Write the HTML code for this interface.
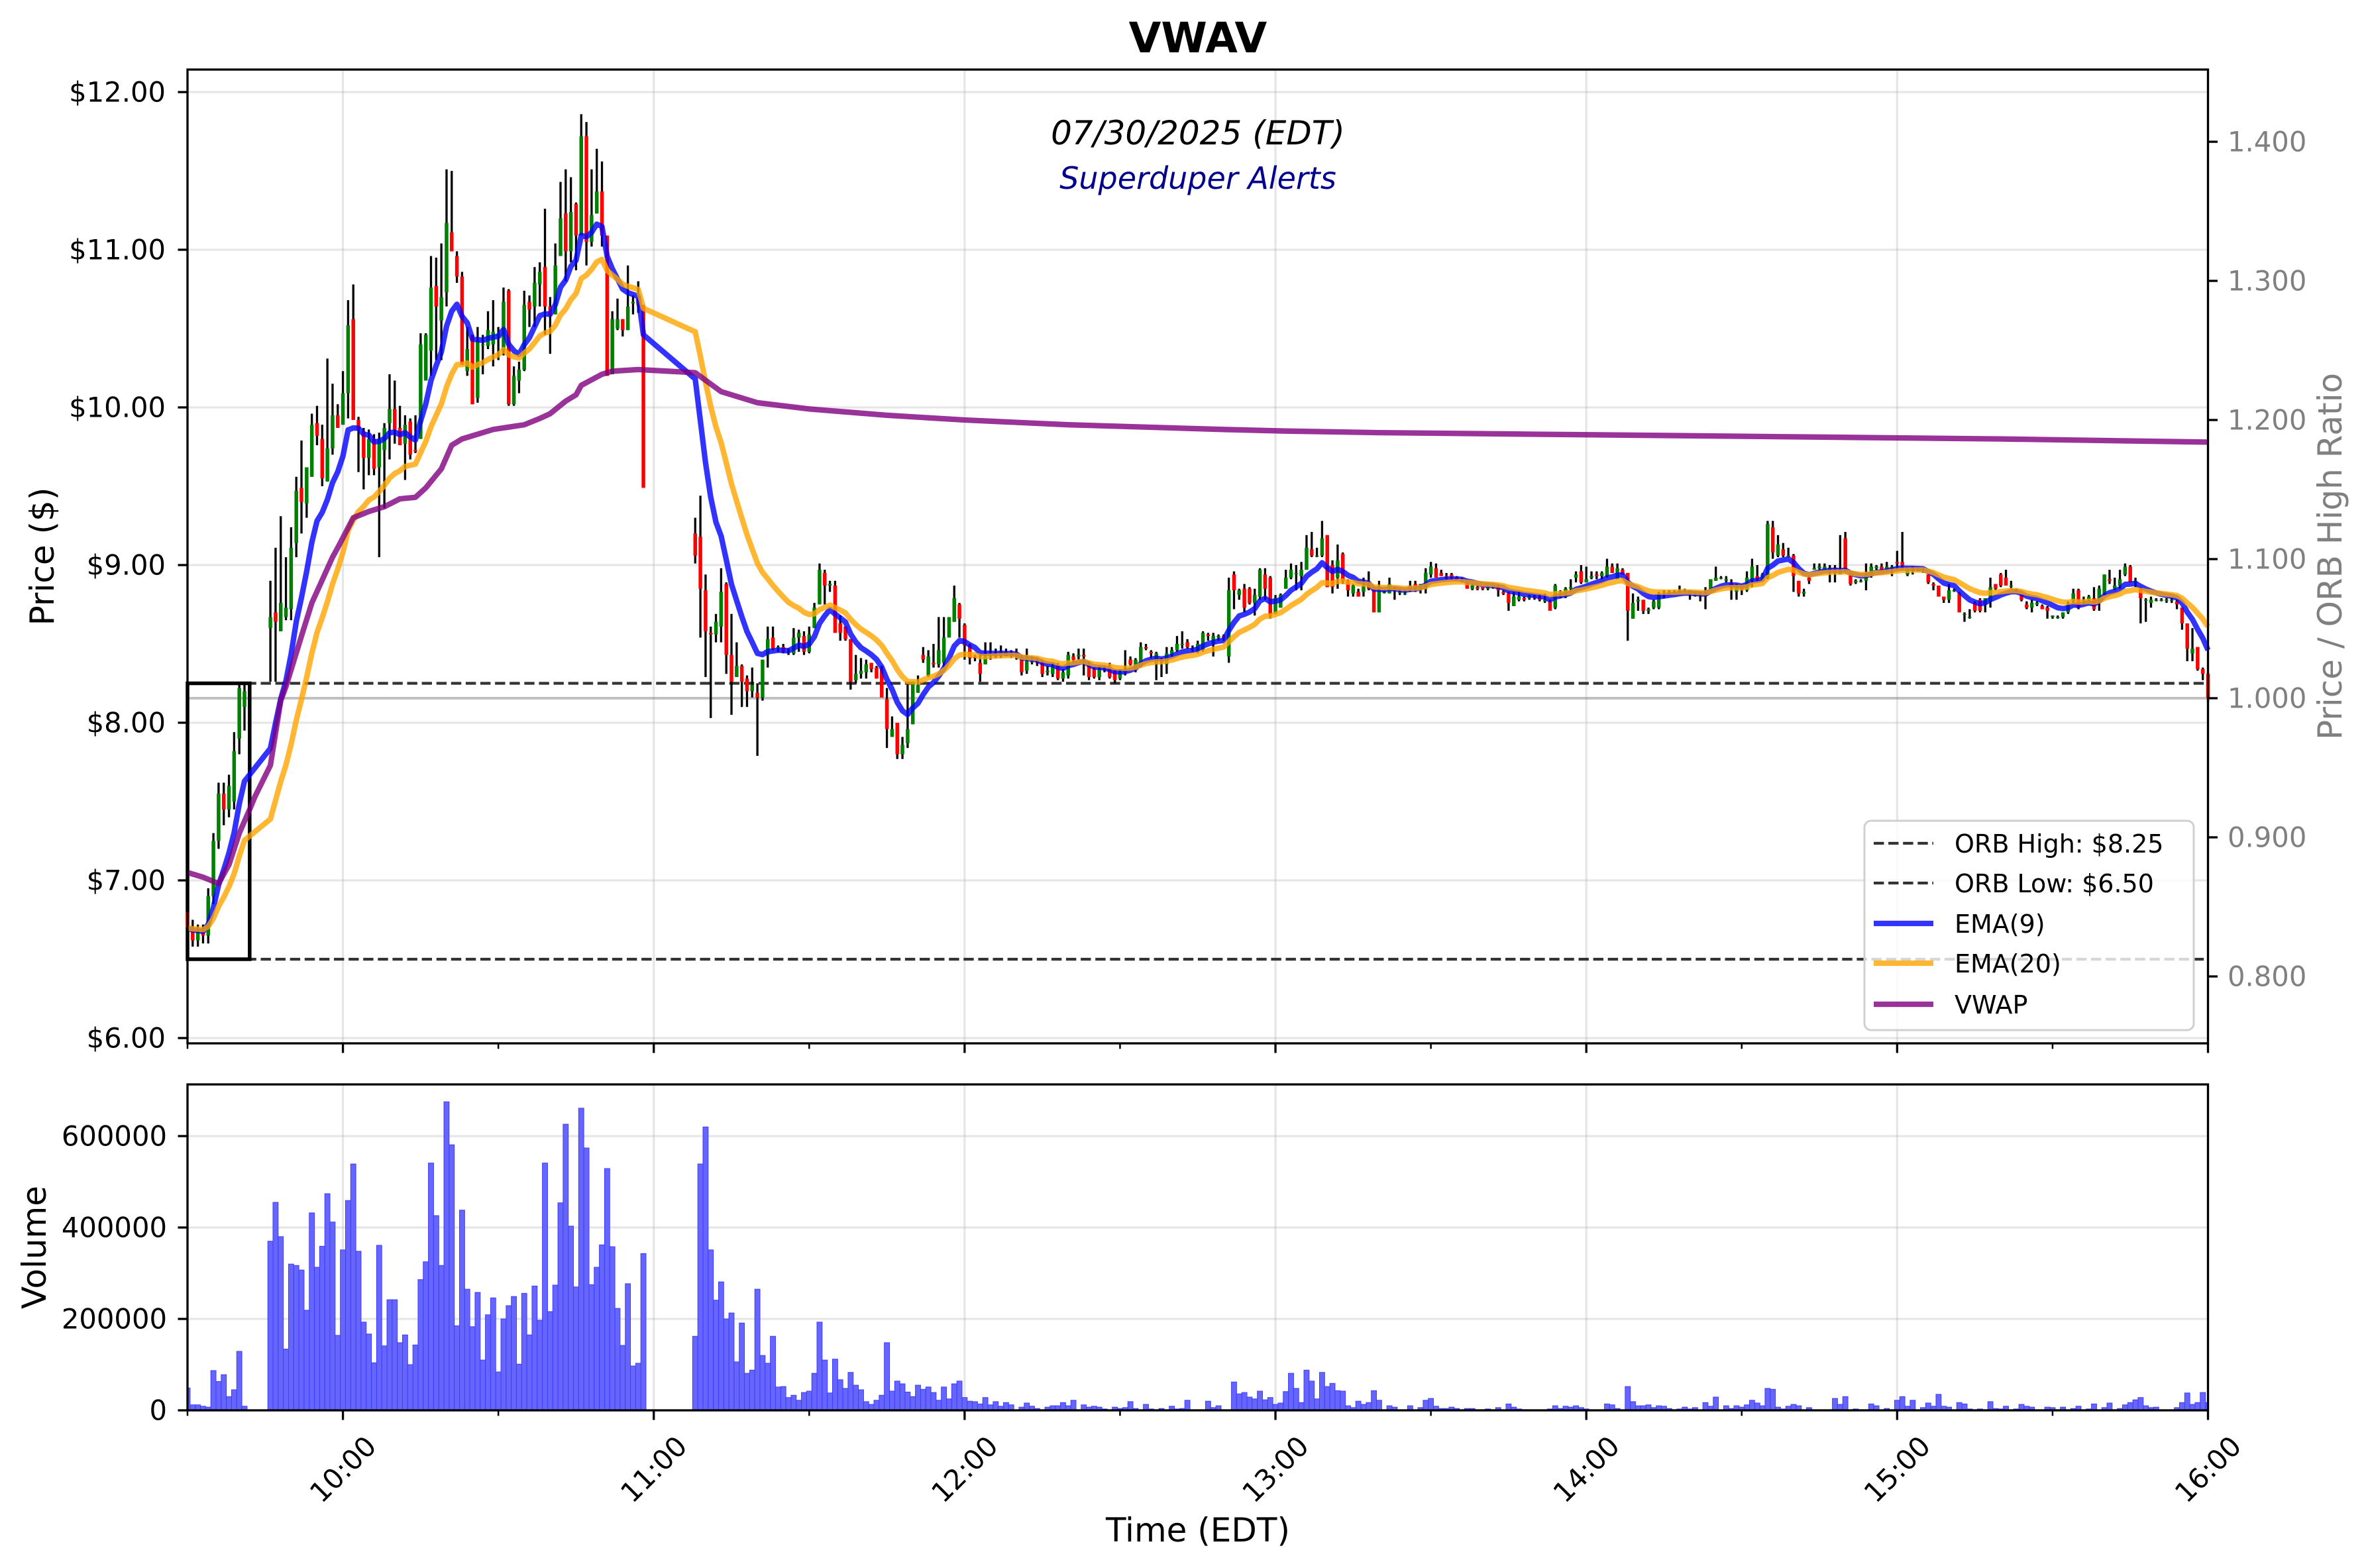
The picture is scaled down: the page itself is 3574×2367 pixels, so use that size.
<!DOCTYPE html>
<html><head><meta charset="utf-8"><title>VWAV</title>
<style>html,body{margin:0;padding:0;background:#fff}svg{display:block}text{font-family:"DejaVu Sans","Liberation Sans",sans-serif}</style>
</head><body>
<svg id="chart" xmlns="http://www.w3.org/2000/svg" width="3574" height="2367" viewBox="0 0 3574 2367">
<rect x="0" y="0" width="3574" height="2367" fill="#fff"/>
<text x="1808" y="79" font-size="63" font-weight="bold" text-anchor="middle">VWAV</text>
<g id="priceGrid"></g>
<g id="volGrid"></g>
<g id="refLines"></g>
<g id="candles"></g>
<g id="lines"></g>
<g id="bars"></g>
<g id="axes"></g>
<text x="1808" y="218" font-size="50" font-style="italic" text-anchor="middle">07/30/2025 (EDT)</text>
<text x="1808" y="285" font-size="46" font-style="italic" fill="#00008b" text-anchor="middle">Superduper Alerts</text>
<g id="legend">
<rect x="2814" y="1239" width="497" height="316" rx="10" fill="#fff" fill-opacity="0.8" stroke="#d0d0d0" stroke-width="3"/>
<line x1="2828" y1="1273" x2="2918" y2="1273" stroke="#333" stroke-width="4.2" stroke-dasharray="15.4 6.7"/>
<text x="2950" y="1287" font-size="38">ORB High: $8.25</text>
<line x1="2828" y1="1333" x2="2918" y2="1333" stroke="#333" stroke-width="4.2" stroke-dasharray="15.4 6.7"/>
<text x="2950" y="1347" font-size="38">ORB Low: $6.50</text>
<line x1="2828" y1="1394" x2="2918" y2="1394" stroke="#0000ff" stroke-opacity="0.8" stroke-width="8.3"/>
<text x="2950" y="1408" font-size="38">EMA(9)</text>
<line x1="2828" y1="1454" x2="2918" y2="1454" stroke="#ffa500" stroke-opacity="0.8" stroke-width="8.3"/>
<text x="2950" y="1468" font-size="38">EMA(20)</text>
<line x1="2828" y1="1516" x2="2918" y2="1516" stroke="#800080" stroke-opacity="0.8" stroke-width="8.3"/>
<text x="2950" y="1530" font-size="38">VWAP</text>
</g>
<text transform="translate(64,840) rotate(-90)" font-size="50" text-anchor="middle" dominant-baseline="central">Price ($)</text>
<text transform="translate(3517,840) rotate(-90)" font-size="50" fill="#808080" text-anchor="middle" dominant-baseline="central">Price / ORB High Ratio</text>
<text transform="translate(52,1883) rotate(-90)" font-size="50" text-anchor="middle" dominant-baseline="central">Volume</text>
<text x="1808" y="2327" font-size="50" text-anchor="middle">Time (EDT)</text>
</svg>
<script>
// ---- data (minute index from 09:30) ----
const opens = [
6.80,6.70,6.62,6.68,6.65,6.90,7.25,7.55,7.45,7.50,
7.90,8.10,null,null,null,null,8.60,8.70,8.58,8.67,
8.72,9.14,9.49,9.39,9.56,9.90,9.80,9.53,9.74,9.95,
9.89,10.09,10.56,9.92,9.85,9.68,9.80,9.62,9.73,9.90,
9.99,9.87,9.77,9.91,9.73,9.80,10.17,10.36,10.77,10.55,
10.73,11.11,10.96,10.83,10.23,10.46,10.06,10.40,10.39,10.40,
10.45,10.36,10.74,10.02,10.17,10.24,10.67,10.64,10.78,10.89,
10.64,10.59,10.96,11.23,10.99,11.29,11.09,11.72,11.05,11.23,
11.37,11.09,10.21,10.50,10.56,10.49,10.66,10.67,10.65,null,
null,null,null,null,null,null,null,null,9.20,9.18,
8.84,8.57,8.56,8.61,8.88,8.43,8.29,8.36,8.28,8.20,
8.19,8.16,8.43,8.54,8.47,8.48,8.45,8.44,8.54,8.55,
8.45,8.60,8.75,8.95,8.87,8.87,8.63,8.61,8.53,8.27,
8.31,8.32,8.38,8.35,8.34,8.15,7.91,8.00,7.80,7.87,
7.99,8.19,8.43,8.30,8.38,8.37,8.38,8.54,8.64,8.75,
8.62,8.49,8.42,8.38,8.37,8.43,8.44,8.43,8.45,8.43,
8.44,8.40,8.33,8.39,8.39,8.38,8.32,8.31,8.36,8.28,
8.30,8.42,8.42,8.43,8.37,8.34,8.29,8.34,8.36,8.33,
8.28,8.32,8.40,8.34,8.36,8.48,8.45,8.37,8.39,8.37,
8.43,8.46,8.50,8.51,8.47,8.45,8.46,8.56,8.50,8.54,
8.55,8.42,8.94,8.81,8.85,8.85,8.76,8.80,8.94,8.92,
8.69,8.73,8.85,8.92,8.95,8.93,8.97,9.10,9.06,9.06,
9.19,9.00,8.92,9.07,8.90,8.82,8.83,8.83,8.87,8.86,
8.70,8.83,8.82,8.86,8.83,8.82,8.84,8.88,8.85,8.85,
8.94,8.98,8.95,8.93,8.94,8.92,8.91,8.89,8.85,8.86,
8.86,8.85,8.86,8.86,8.83,8.82,8.74,8.78,8.79,8.79,
8.80,8.79,8.77,8.77,8.73,8.80,8.80,8.85,8.92,8.96,
8.89,8.92,8.94,8.93,8.93,8.99,8.91,8.97,8.95,8.66,
8.77,8.78,8.71,8.73,8.73,8.82,8.83,8.83,8.84,8.84,
8.83,8.81,8.81,8.81,8.84,8.90,8.92,8.90,8.89,8.83,
8.87,8.84,8.90,8.93,8.91,8.92,9.24,9.06,9.10,9.05,
9.06,8.90,8.82,8.92,8.97,8.98,8.97,8.97,8.98,8.94,
9.17,8.95,8.89,8.90,8.90,8.93,8.98,8.99,8.97,8.98,
9.02,9.02,8.94,8.97,8.97,8.97,8.94,8.88,8.87,8.80,
8.78,8.84,8.82,8.69,8.67,8.76,8.78,8.75,8.77,8.88,
8.94,8.92,8.87,8.84,8.81,8.75,8.73,8.75,8.74,8.73,
8.67,8.67,8.67,8.70,8.77,8.84,8.77,8.78,8.79,8.76,
8.82,8.91,8.85,8.87,8.94,8.99,8.89,8.85,8.78,8.76,
8.78,8.78,8.78,8.78,8.77,8.73,8.63,8.44,8.48,8.34,
8.31];
const highs = [
6.85,6.75,6.72,6.72,6.95,7.30,7.62,7.62,7.67,7.94,
8.25,8.25,null,null,null,null,8.90,9.11,9.31,9.05,
9.24,9.56,9.79,9.62,9.96,10.01,9.89,10.31,10.15,10.02,
10.23,10.68,10.78,9.94,9.87,9.86,9.83,9.84,9.90,10.21,
10.17,10.01,9.95,9.93,9.95,10.47,10.47,10.96,10.95,11.04,
11.51,11.50,10.99,10.86,10.51,10.46,10.51,10.46,10.61,10.68,
10.51,10.76,10.75,10.26,10.29,10.74,10.71,10.89,10.92,11.26,
10.70,11.04,11.43,11.51,11.46,11.30,11.86,11.81,11.51,11.64,
11.56,11.09,10.61,10.69,10.56,10.90,10.71,10.80,10.65,null,
null,null,null,null,null,null,null,null,9.30,9.44,
8.94,8.61,8.69,8.98,8.89,8.69,8.51,8.37,8.30,8.35,
8.25,8.40,8.61,8.61,8.49,8.50,8.47,8.60,8.59,8.58,
8.61,8.76,9.01,8.97,8.90,8.90,8.68,8.61,8.53,8.43,
8.41,8.40,8.38,8.36,8.36,8.22,8.04,8.00,7.91,8.25,
8.26,8.30,8.48,8.46,8.50,8.67,8.67,8.67,8.87,8.76,
8.63,8.50,8.43,8.43,8.51,8.51,8.47,8.49,8.47,8.46,
8.47,8.43,8.47,8.42,8.41,8.40,8.36,8.38,8.38,8.34,
8.45,8.44,8.47,8.47,8.39,8.35,8.36,8.36,8.38,8.34,
8.34,8.46,8.42,8.41,8.51,8.50,8.46,8.45,8.41,8.48,
8.48,8.55,8.58,8.53,8.49,8.52,8.58,8.57,8.57,8.56,
8.56,8.92,8.96,8.85,8.88,8.86,8.85,8.98,8.98,8.93,
8.81,8.82,8.97,9.01,9.00,9.02,9.19,9.21,9.11,9.28,
9.19,9.03,9.13,9.08,8.91,8.88,8.85,8.92,8.96,8.86,
8.90,8.84,8.92,8.86,8.85,8.84,8.90,8.90,8.88,8.98,
9.02,9.01,8.97,8.95,8.95,8.93,8.92,8.90,8.88,8.87,
8.86,8.87,8.87,8.87,8.84,8.83,8.83,8.83,8.80,8.81,
8.81,8.82,8.82,8.78,8.88,8.84,8.86,8.91,8.96,9.00,
8.99,8.96,8.96,8.96,9.04,9.01,9.01,8.98,8.95,8.82,
8.80,8.78,8.73,8.78,8.83,8.84,8.84,8.84,8.87,8.85,
8.84,8.83,8.83,8.86,8.91,8.99,8.93,8.93,8.91,8.88,
8.87,8.96,9.04,9.00,8.95,9.28,9.28,9.19,9.14,9.11,
9.07,8.90,8.85,8.93,9.01,9.01,9.01,9.00,9.00,9.19,
9.21,8.95,8.91,8.91,9.01,9.01,9.00,9.01,9.02,9.00,
9.09,9.21,8.98,8.99,8.98,8.98,8.94,8.89,8.87,8.80,
8.88,8.85,8.83,8.70,8.72,8.77,8.79,8.79,8.92,8.88,
8.95,8.97,8.90,8.85,8.81,8.77,8.78,8.77,8.75,8.74,
8.68,8.68,8.70,8.77,8.85,8.85,8.80,8.81,8.86,8.87,
8.94,8.97,8.92,8.97,9.01,9.00,8.92,8.86,8.79,8.80,
8.79,8.79,8.79,8.79,8.78,8.73,8.63,8.60,8.48,8.35,
8.32];
const lows = [
6.60,6.58,6.58,6.60,6.60,6.85,7.20,7.35,7.40,7.45,
7.80,7.95,null,null,null,null,8.26,8.26,8.58,8.65,
8.65,9.05,9.20,9.30,9.56,9.76,9.50,9.53,9.70,9.87,
9.89,9.93,9.92,9.59,9.48,9.57,9.57,9.05,9.36,9.67,
9.77,9.76,9.54,9.67,9.71,9.80,10.17,10.20,10.30,10.30,
10.64,10.99,10.79,10.27,10.20,10.02,10.03,10.21,10.37,10.26,
10.30,10.33,10.01,10.01,10.09,10.23,10.51,10.51,10.64,10.46,
10.34,10.59,10.96,10.80,10.92,10.87,11.09,10.90,11.02,11.23,
11.02,10.20,10.21,10.49,10.45,10.49,10.59,10.60,9.49,null,
null,null,null,null,null,null,null,null,9.01,8.54,
8.29,8.03,8.51,8.51,8.31,8.05,8.29,8.10,8.10,8.16,
7.79,8.14,8.35,8.46,8.45,8.44,8.43,8.43,8.45,8.43,
8.44,8.60,8.75,8.75,8.83,8.57,8.52,8.52,8.21,8.25,
8.28,8.28,8.32,8.28,8.16,7.84,7.91,7.77,7.77,7.84,
7.99,8.19,8.38,8.29,8.35,8.35,8.35,8.54,8.64,8.54,
8.40,8.37,8.39,8.26,8.37,8.40,8.41,8.41,8.42,8.41,
8.40,8.30,8.31,8.37,8.36,8.29,8.30,8.29,8.27,8.26,
8.28,8.38,8.40,8.30,8.27,8.28,8.27,8.32,8.28,8.25,
8.27,8.30,8.36,8.32,8.35,8.46,8.41,8.27,8.29,8.31,
8.42,8.45,8.47,8.47,8.45,8.44,8.45,8.52,8.42,8.52,
8.52,8.38,8.72,8.78,8.70,8.75,8.68,8.78,8.78,8.66,
8.69,8.73,8.85,8.91,8.84,8.84,8.97,9.05,9.05,9.05,
8.86,8.82,8.85,8.88,8.80,8.80,8.80,8.80,8.84,8.70,
8.70,8.82,8.82,8.78,8.81,8.81,8.83,8.83,8.82,8.82,
8.92,8.92,8.93,8.91,8.91,8.90,8.89,8.85,8.84,8.84,
8.84,8.84,8.85,8.80,8.81,8.71,8.74,8.77,8.77,8.78,
8.78,8.77,8.76,8.71,8.72,8.79,8.79,8.83,8.89,8.88,
8.89,8.91,8.91,8.91,8.92,8.95,8.91,8.94,8.52,8.66,
8.71,8.69,8.69,8.72,8.72,8.79,8.81,8.82,8.82,8.83,
8.78,8.80,8.77,8.72,8.84,8.90,8.91,8.89,8.78,8.78,
8.81,8.83,8.86,8.90,8.90,8.91,9.04,9.05,9.05,9.05,
8.83,8.80,8.80,8.88,8.97,8.97,8.97,8.89,8.89,8.94,
8.96,8.87,8.88,8.89,8.84,8.92,8.97,8.96,8.96,8.93,
8.97,8.97,8.93,8.94,8.96,8.95,8.88,8.84,8.80,8.76,
8.76,8.83,8.70,8.64,8.66,8.70,8.70,8.70,8.73,8.84,
8.86,8.87,8.85,8.83,8.77,8.72,8.70,8.74,8.72,8.66,
8.66,8.66,8.66,8.69,8.76,8.72,8.75,8.77,8.71,8.71,
8.81,8.88,8.84,8.85,8.93,8.89,8.86,8.63,8.64,8.73,
8.77,8.77,8.76,8.76,8.72,8.59,8.39,8.39,8.33,8.27,
8.13];
const closes = [
6.70,6.62,6.68,6.65,6.90,7.25,7.55,7.45,7.60,7.82,
8.22,8.20,null,null,null,null,8.67,8.64,8.76,8.73,
9.11,9.47,9.40,9.62,9.89,9.82,9.55,9.74,9.95,9.87,
10.09,10.52,9.92,9.86,9.68,9.80,9.61,9.80,9.87,9.99,
9.86,9.76,9.89,9.70,9.72,10.40,10.46,10.76,10.64,10.70,
11.17,10.99,10.83,10.27,10.37,10.02,10.42,10.40,10.49,10.48,
10.47,10.67,10.02,10.20,10.24,10.65,10.62,10.79,10.86,10.64,
10.58,10.90,11.20,10.99,11.24,11.09,11.72,11.05,11.22,11.37,
11.09,10.20,10.56,10.56,10.49,10.64,10.67,10.65,9.49,null,
null,null,null,null,null,null,null,null,9.06,8.85,
8.58,8.56,8.64,8.83,8.43,8.26,8.36,8.26,8.20,8.24,
8.16,8.40,8.53,8.47,8.48,8.45,8.45,8.54,8.57,8.45,
8.56,8.73,8.97,8.87,8.88,8.57,8.57,8.53,8.26,8.31,
8.33,8.37,8.34,8.28,8.16,7.96,7.96,7.80,7.86,7.96,
8.26,8.24,8.40,8.42,8.37,8.46,8.54,8.67,8.79,8.66,
8.49,8.41,8.41,8.31,8.43,8.44,8.43,8.45,8.43,8.44,
8.42,8.32,8.39,8.39,8.38,8.31,8.33,8.36,8.28,8.32,
8.43,8.40,8.43,8.42,8.29,8.29,8.34,8.34,8.29,8.27,
8.32,8.33,8.37,8.40,8.48,8.47,8.44,8.44,8.38,8.44,
8.46,8.50,8.50,8.48,8.47,8.50,8.57,8.55,8.55,8.55,
8.54,8.84,8.84,8.84,8.73,8.76,8.81,8.97,8.85,8.68,
8.79,8.81,8.92,8.97,8.95,8.97,9.11,9.06,9.06,9.17,
8.86,8.86,9.03,8.90,8.84,8.87,8.80,8.87,8.85,8.70,
8.85,8.83,8.88,8.84,8.83,8.82,8.87,8.86,8.88,8.95,
8.99,8.92,8.93,8.92,8.92,8.91,8.90,8.85,8.87,8.85,
8.85,8.86,8.86,8.84,8.82,8.76,8.80,8.80,8.78,8.80,
8.79,8.78,8.78,8.71,8.87,8.83,8.85,8.86,8.94,8.89,
8.91,8.93,8.93,8.95,8.99,8.95,8.98,8.94,8.71,8.76,
8.78,8.71,8.72,8.77,8.82,8.82,8.83,8.83,8.84,8.84,
8.82,8.81,8.81,8.81,8.91,8.92,8.92,8.91,8.87,8.87,
8.84,8.92,8.99,8.91,8.94,9.26,9.08,9.13,9.06,9.06,
8.93,8.82,8.83,8.90,8.98,8.99,8.99,8.98,8.97,8.96,
8.97,8.88,8.90,8.90,8.94,8.99,8.99,8.97,8.99,8.99,
9.01,9.00,8.97,8.98,8.97,8.97,8.89,8.87,8.80,8.78,
8.84,8.84,8.70,8.69,8.67,8.71,8.71,8.79,8.86,8.85,
8.87,8.87,8.87,8.83,8.78,8.73,8.76,8.76,8.72,8.71,
8.68,8.67,8.70,8.75,8.82,8.73,8.78,8.80,8.72,8.85,
8.94,8.90,8.87,8.91,8.99,8.89,8.90,8.79,8.78,8.78,
8.78,8.78,8.78,8.78,8.75,8.63,8.47,8.47,8.34,8.31,
8.16];
const volumesK = [
49,12,12,9,7,87,63,78,30,45,
129,9,null,null,null,null,370,455,380,134,
320,317,307,219,432,313,359,474,412,164,
351,459,539,348,193,167,104,361,141,242,
242,148,165,100,143,286,325,541,426,317,
675,581,185,438,265,183,258,110,209,246,
84,200,229,249,101,256,165,272,197,541,
216,274,454,626,403,270,661,574,275,313,
362,529,358,223,142,277,97,103,343,null,
null,null,null,null,null,null,null,null,162,539,
620,351,241,281,200,213,106,191,81,88,
265,120,103,162,51,52,28,33,22,39,
42,81,193,110,38,112,67,48,83,55,
45,19,13,22,33,148,42,64,58,40,
30,55,46,51,39,22,51,25,58,64,
28,20,19,14,28,12,19,9,17,12,
1,7,16,9,4,0,7,10,10,17,
10,22,1,12,7,9,7,3,1,7,
4,6,19,4,0,13,3,0,4,1,
9,3,4,22,0,0,0,20,6,10,
1,1,62,36,39,29,25,42,23,28,
13,16,41,81,48,17,88,64,25,83,
52,59,43,42,10,6,20,13,17,43,
22,0,10,7,1,0,10,1,6,22,
26,9,4,4,7,4,0,4,4,0,
0,3,0,6,1,14,7,3,1,0,
0,1,1,3,10,4,9,7,10,6,
3,1,1,1,14,12,4,0,52,19,
10,10,12,6,10,9,4,0,3,7,
3,6,1,17,9,29,0,10,4,10,
7,12,22,16,10,48,46,7,3,9,
13,10,0,6,1,1,0,0,26,13,
30,1,3,0,0,14,10,1,4,0,
22,30,9,22,1,6,16,9,35,9,
7,0,17,14,3,0,3,0,19,4,
3,9,1,3,13,9,7,1,0,7,
6,1,7,1,4,9,0,3,14,1,
6,16,1,4,12,17,23,28,10,6,
7,1,1,1,6,17,38,13,17,39,
17];
const vwapIdx = [0,3,6,8,10,12,13,16,18,19,22,24,28,29,32,35,38,41,44,46,49,51,53,59,65,68,70,73,75,76,80,82,87,98,103,110,120,135,150,170,200,212,230,260,290,320,350,390];
const vwapVal = [7.05,7.02,6.98,7.10,7.30,7.45,7.53,7.73,8.14,8.23,8.55,8.76,9.05,9.11,9.30,9.34,9.37,9.42,9.43,9.49,9.61,9.76,9.80,9.86,9.89,9.93,9.96,10.04,10.08,10.14,10.21,10.23,10.24,10.22,10.10,10.03,9.99,9.95,9.92,9.89,9.86,9.85,9.84,9.83,9.82,9.81,9.80,9.78];
const orbHigh = 8.25, orbLow = 6.50;
const priceTicks = [6,7,8,9,10,11,12];
const ratioTicks = [0.8,0.9,1.0,1.1,1.2,1.3,1.4];
const volTicks = [0,200000,400000,600000];
const hourIdx = [30,90,150,210,270,330,390];
const hourLabels = ["10:00","11:00","12:00","13:00","14:00","15:00","16:00"];
const halfIdx = [0,60,120,180,240,300,360];

// ---- axis functions ----
const L = 283, R = 3332.5, PT = 105, PB = 1575, VT = 1637, VB = 2129;
const X = i => L + i * (R - L) / 390;
const Py = p => 1567 - (p - 6) * 238;
const Ry = r => 1054 - (r - 1) * 2100;
const Vy = v => VB - v / 200000 * 138;
const NS = "http://www.w3.org/2000/svg";
function mk(tag, attrs, parent) {
  const e = document.createElementNS(NS, tag);
  for (const k in attrs) e.setAttribute(k, attrs[k]);
  parent.appendChild(e);
  return e;
}
const gPG = document.getElementById('priceGrid'), gVG = document.getElementById('volGrid'),
      gRef = document.getElementById('refLines'), gC = document.getElementById('candles'),
      gL = document.getElementById('lines'), gB = document.getElementById('bars'), gA = document.getElementById('axes');
const gridStyle = {stroke: '#b0b0b0', 'stroke-opacity': 0.32, 'stroke-width': 3.3};

hourIdx.forEach(i => {
  let a = mk('line', Object.assign({x1: X(i), x2: X(i), y1: PT, y2: PB}, gridStyle), gPG);
  
  
  let b = mk('line', Object.assign({x1: X(i), x2: X(i), y1: VT, y2: VB}, gridStyle), gVG);
  
  
});
priceTicks.forEach(p => {
  let a = mk('line', Object.assign({x1: L, x2: R, y1: Py(p), y2: Py(p)}, gridStyle), gPG);
  
  
});
volTicks.forEach(v => {
  let a = mk('line', Object.assign({x1: L, x2: R, y1: Vy(v), y2: Vy(v)}, gridStyle), gVG);
  
  
});

let rl = mk('line', {x1: L, x2: R, y1: Ry(1.0), y2: Ry(1.0), stroke: '#808080', 'stroke-opacity': 0.5, 'stroke-width': 4}, gRef);


[[orbHigh, 'orb-high-line'], [orbLow, 'orb-low-line']].forEach(([p, n]) => {
  let d = mk('line', {x1: L, x2: R, y1: Py(p), y2: Py(p), stroke: '#333', 'stroke-width': 4.2, 'stroke-dasharray': '15.4 6.7'}, gRef);
  
  
});
let box = mk('rect', {x: X(0), y: Py(orbHigh), width: X(12) - X(0), height: Py(orbLow) - Py(orbHigh), fill: 'none', stroke: '#000', 'stroke-width': 5.5}, gRef);



for (let i = 0; i < closes.length; i++) {
  if (closes[i] === null) continue;
  const o = opens[i], c = closes[i], h = highs[i], l = lows[i];
  const up = c >= o;
  const w = mk('line', {x1: X(i), x2: X(i), y1: Py(h), y2: Py(l), stroke: '#000', 'stroke-width': 3.3}, gC);
  
  
  const top = Py(Math.max(o, c)), bot = Py(Math.min(o, c));
  const b = mk('rect', {x: X(i) - 2.75, y: top, width: 5.5, height: Math.max(bot - top, 1.5), fill: up ? '#008000' : '#ff0000'}, gC);
  
  
}

function emaPts(n) {
  const a = 2 / (n + 1); let e = null; const pts = [];
  for (let i = 0; i < closes.length; i++) {
    if (closes[i] === null) continue;
    e = e === null ? closes[i] : a * closes[i] + (1 - a) * e;
    pts.push(X(i).toFixed(1) + ',' + Py(e).toFixed(1));
  }
  return pts.join(' ');
}
const e9 = mk('polyline', {points: emaPts(9), fill: 'none', stroke: '#0000ff', 'stroke-opacity': 0.8, 'stroke-width': 8.3, 'stroke-linejoin': 'round'}, gL);


const e20 = mk('polyline', {points: emaPts(20), fill: 'none', stroke: '#ffa500', 'stroke-opacity': 0.8, 'stroke-width': 8.3, 'stroke-linejoin': 'round'}, gL);


const vw = mk('polyline', {points: vwapIdx.map((t, k) => X(t).toFixed(1) + ',' + Py(vwapVal[k]).toFixed(1)).join(' '), fill: 'none', stroke: '#800080', 'stroke-opacity': 0.8, 'stroke-width': 8.3, 'stroke-linejoin': 'round'}, gL);



const bw = (R - L) / 390;
for (let i = 0; i < volumesK.length; i++) {
  if (volumesK[i] === null || volumesK[i] === 0) continue;
  const v = volumesK[i] * 1000;
  let x0 = X(i) - bw / 2, x1 = X(i) + bw / 2;
  x0 = Math.max(x0, L); x1 = Math.min(x1, R);
  const r = mk('rect', {x: x0, y: Vy(v), width: x1 - x0, height: VB - Vy(v), fill: '#6666ff', stroke: '#3d3dff', 'stroke-width': 1}, gB);
  
  
}

[[PT, PB, 'price-axes-frame'], [VT, VB, 'volume-axes-frame']].forEach(([t, b, n]) => {
  const f = mk('rect', {x: L, y: t, width: R - L, height: b - t, fill: 'none', stroke: '#000', 'stroke-width': 3.3}, gA);
  
  
});
priceTicks.forEach(p => {
  const t = mk('line', {x1: L - 14.5, x2: L, y1: Py(p), y2: Py(p), stroke: '#000', 'stroke-width': 3.3}, gA);
  
  
  const tx = mk('text', {x: 250, y: Py(p), 'font-size': 41.7, 'text-anchor': 'end', 'dominant-baseline': 'central'}, gA);
  tx.textContent = '$' + p.toFixed(2);
  
  
});
ratioTicks.forEach(r => {
  const t = mk('line', {x1: R, x2: R + 14.5, y1: Ry(r), y2: Ry(r), stroke: '#000', 'stroke-width': 3.3}, gA);
  
  
  const tx = mk('text', {x: 3362, y: Ry(r), 'font-size': 41.7, fill: '#808080', 'dominant-baseline': 'central'}, gA);
  tx.textContent = r.toFixed(3);
  
  
});
volTicks.forEach(v => {
  const t = mk('line', {x1: L - 14.5, x2: L, y1: Vy(v), y2: Vy(v), stroke: '#000', 'stroke-width': 3.3}, gA);
  
  
  const tx = mk('text', {x: 252, y: Vy(v), 'font-size': 41.7, 'text-anchor': 'end', 'dominant-baseline': 'central'}, gA);
  tx.textContent = String(v);
  
  
});
hourIdx.forEach((i, k) => {
  [PB, VB].forEach(yb => {
    const t = mk('line', {x1: X(i), x2: X(i), y1: yb, y2: yb + 14.5, stroke: '#000', 'stroke-width': 3.3}, gA);
    
    
  });
  const tx = mk('text', {transform: 'translate(' + X(i).toFixed(1) + ',2218) rotate(-45)', 'font-size': 41.7, 'text-anchor': 'middle', 'dominant-baseline': 'central'}, gA);
  tx.textContent = hourLabels[k];
  
  
});
halfIdx.forEach(i => {
  [PB, VB].forEach(yb => {
    const t = mk('line', {x1: X(i), x2: X(i), y1: yb, y2: yb + 8.3, stroke: '#000', 'stroke-width': 2.5}, gA);
    
    
  });
});
</script>
</body></html>
